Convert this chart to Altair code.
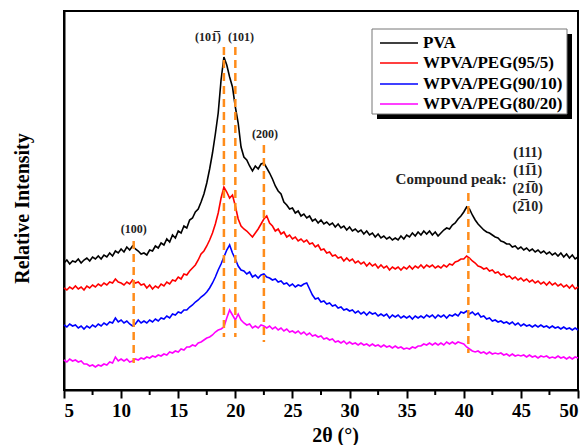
import altair as alt
import pandas as pd

series_names = ["PVA", "WPVA/PEG(95/5)", "WPVA/PEG(90/10)", "WPVA/PEG(80/20)"]
series_colors = ["#000000", "#FF0000", "#0000FF", "#FF00FF"]

# intensity (a.u.) sampled every 0.25 deg from 5 to 50 deg, rows = one degree
pva = [
    127,130,126,129, 128,131,127,130, 132,129,133,131, 134,131,135,133,
    137,134,139,137, 141,138,143,140, 144,141,139,136, 137,135,140,139,
    144,142,147,145, 151,148,155,152, 159,157,164,162, 170,172,178,181,
    188,196,207,221, 237,256,277,310, 333,325,313,303, 283,267,243,233,
    230,224,219,224, 221,226,227,222, 217,211,204,199, 196,188,185,181,
    182,177,179,174, 176,172,174,169, 171,167,170,166, 168,165,167,163,
    166,162,164,160, 163,159,161,158, 160,156,159,155, 157,153,156,152,
    154,151,153,150, 152,150,154,151, 155,153,157,154, 158,155,159,156,
    159,155,158,154, 157,160,162,161, 165,167,171,174, 178,183,181,175,
    170,166,163,160, 158,157,155,153, 152,149,148,146, 146,143,144,141,
    143,140,142,139, 141,138,140,137, 139,136,138,135, 137,134,137,133,
    136,132,135,131, 133,
]
peg95 = [
    102,100,103,101, 104,101,103,100, 104,102,105,103, 106,104,107,105,
    108,107,111,108, 107,105,108,106, 110,107,108,105, 106,102,105,101,
    104,102,106,104, 108,106,110,109, 113,111,116,115, 119,122,125,130,
    136,139,144,150, 157,166,177,192, 203,198,192,195, 184,171,164,161,
    159,156,153,157, 161,166,171,174, 167,164,159,161, 156,158,153,155,
    151,153,149,151, 148,150,146,147, 143,145,140,141, 137,138,134,135,
    132,133,129,132, 129,131,127,129, 126,128,124,127, 124,126,122,125,
    122,124,120,123, 121,123,120,123, 121,124,121,124, 122,125,122,125,
    123,125,122,124, 122,125,123,126, 125,128,129,131, 131,134,132,129,
    127,124,123,121, 122,119,120,117, 118,115,116,113, 114,111,113,110,
    112,109,111,108, 110,107,109,106, 108,105,108,105, 107,104,106,103,
    105,102,105,101, 103,
]
peg90 = [
    65,63,66,64, 65,62,64,61, 64,62,65,63, 66,64,67,65,
    68,67,72,68, 70,67,69,66, 64,66,70,67, 69,67,70,68,
    71,69,72,71, 74,72,76,75, 78,77,80,80, 83,85,88,90,
    93,95,98,102, 107,113,120,126, 133,140,145,137, 131,124,120,119,
    116,118,113,115, 112,115,116,113, 112,110,111,108, 109,106,107,104,
    106,103,105,104, 106,107,101,95, 91,92,88,89, 86,87,84,85,
    82,83,80,81, 79,80,77,79, 76,78,75,78, 76,77,74,76,
    74,76,72,75, 73,75,72,74, 72,74,71,74, 72,74,72,75,
    73,75,72,75, 73,75,72,75, 74,76,74,78, 77,79,76,78,
    75,77,73,74, 71,72,69,70, 68,69,67,68, 66,68,65,67,
    64,66,64,65, 63,65,63,65, 63,64,62,64, 62,63,61,63,
    61,62,60,62, 60,
]
peg80 = [
    30,28,31,29, 30,28,29,26, 26,24,25,23, 25,24,26,25,
    28,27,33,29, 31,29,31,28, 29,31,30,32, 31,33,32,34,
    33,35,34,36, 35,38,37,39, 38,41,40,43, 43,45,44,47,
    48,50,52,53, 55,58,60,61, 63,72,80,75, 70,76,70,67,
    65,66,62,64, 62,65,64,62, 64,61,63,60, 62,59,61,58,
    59,57,59,56, 58,55,57,54, 55,53,54,51, 52,50,51,48,
    49,47,49,46, 48,46,47,45, 47,45,46,44, 46,44,45,43,
    45,43,44,42, 44,42,43,41, 42,41,43,42, 44,44,46,45,
    47,45,47,45, 47,45,48,46, 48,46,48,47, 46,43,41,39,
    38,39,37,38, 36,38,36,37, 36,37,35,36, 34,36,34,35,
    34,35,33,35, 33,34,32,34, 33,34,32,33, 32,34,32,33,
    31,33,31,33, 32,
]
two_theta = [5 + 0.25 * i for i in range(181)]

x_ticks = [5, 10, 15, 20, 25, 30, 35, 40, 45, 50]
minor_ticks = [7.5, 12.5, 17.5, 22.5, 27.5, 32.5, 37.5, 42.5, 47.5]

peak_x = [11.1, 19.0, 20.0, 22.5, 40.4]
peak_top = [149, 343, 343, 245, 197]
peak_bottom = [27, 53, 53, 48, 37]

label_text = ["(100)", "(10\u0031\u0305)", "(101)", "(200)", "Compound peak:",
              "(111)", "(1\u0031\u03051)", "(2\u0031\u03050)", "(2\u030510)"]
label_x = [11.1, 17.6, 20.5, 22.6, 38.9, 45.6, 45.6, 45.6, 45.6]
label_y = [161, 353, 353, 256, 211, 237, 219, 201, 183]
label_size = [12, 12, 12, 12, 15, 14, 14, 14, 14]

rows = []
for name, vals in zip(series_names, [pva, peg95, peg90, peg80]):
    assert len(vals) == len(two_theta), (name, len(vals))
    for t, v in zip(two_theta, vals):
        rows.append({"theta": t, "intensity": v, "sample": name})
df = pd.DataFrame(rows)

FONT = "Liberation Serif"
ORANGE = "#FF8C1A"

x_scale = alt.Scale(domain=[5, 50], nice=False, zero=False)
y_scale = alt.Scale(domain=[0, 379], nice=False, zero=False)

lines = alt.Chart(df).mark_line(strokeWidth=1.6).encode(
    x=alt.X("theta:Q", scale=x_scale,
            axis=alt.Axis(values=x_ticks, format="d", title="2\u03b8 (\u00b0)",
                          grid=False, tickSize=8, tickWidth=2, domainWidth=2,
                          domainColor="black", tickColor="black",
                          labelFont=FONT, labelFontWeight="bold", labelFontSize=19,
                          labelColor="black", labelPadding=3,
                          titleFont=FONT, titleFontWeight="bold", titleFontSize=20,
                          titleColor="black", titleX=271, titleY=45,
                          titleBaseline="middle", titleAlign="center")),
    y=alt.Y("intensity:Q", scale=y_scale,
            axis=alt.Axis(labels=False, ticks=False, grid=False, domainWidth=2,
                          domainColor="black", title="Relative Intensity",
                          titleFont=FONT, titleFontWeight="bold", titleFontSize=20,
                          titleColor="black", titleX=-42, titleY=197,
                          titleBaseline="middle", titleAlign="center", titleAngle=270)),
    color=alt.Color("sample:N", scale=alt.Scale(domain=series_names, range=series_colors),
                    legend=None),
    detail="sample:N",
)

peaks_df = pd.DataFrame({"x": peak_x, "top": peak_top, "bottom": peak_bottom})
dashes = alt.Chart(peaks_df).mark_rule(color=ORANGE, strokeWidth=2.5, strokeDash=[8, 5]).encode(
    x="x:Q", y="top:Q", y2="bottom:Q"
)

labels_df = pd.DataFrame({"x": label_x, "y": label_y, "t": label_text, "s": label_size})
labels = alt.Chart(labels_df).mark_text(font=FONT, fontWeight="bold", color="#222222",
                                        baseline="middle", align="center").encode(
    x="x:Q", y="y:Q", text="t:N", size=alt.Size("s:Q", scale=None)
)

minor_df = pd.DataFrame({"x": minor_ticks})
minor = alt.Chart(minor_df).mark_rule(color="black", strokeWidth=2, clip=False).encode(
    x="x:Q", y=alt.value(379), y2=alt.value(384)
)

one = pd.DataFrame({"k": [0]})
shadow = alt.Chart(one).mark_rect(fill="black").encode(
    x=alt.value(313), x2=alt.value(508), y=alt.value(23), y2=alt.value(108)
)
box = alt.Chart(one).mark_rect(fill="white", stroke="#777777", strokeWidth=1).encode(
    x=alt.value(308), x2=alt.value(503), y=alt.value(18), y2=alt.value(103)
)
legend_rows = [32, 52, 73, 93]
legend_layers = [shadow, box]
for name, col, ry in zip(series_names, series_colors, legend_rows):
    legend_layers.append(
        alt.Chart(one).mark_rule(color=col, strokeWidth=1.6).encode(
            x=alt.value(316), x2=alt.value(354), y=alt.value(ry)
        )
    )
    legend_layers.append(
        alt.Chart(one).mark_text(text=name, font=FONT, fontWeight="bold", fontSize=17,
                                 align="left", baseline="middle", color="black").encode(
            x=alt.value(359), y=alt.value(ry)
        )
    )

chart = alt.layer(lines, dashes, labels, minor, *legend_layers).properties(
    width=514, height=379,
    padding={"left": 64, "top": 11, "right": 10, "bottom": 55},
    autosize=alt.AutoSizeParams(type="none"),
).configure_view(stroke="black", strokeWidth=2)

chart.save("out.html", embed_options={"renderer": "svg", "actions": False})
